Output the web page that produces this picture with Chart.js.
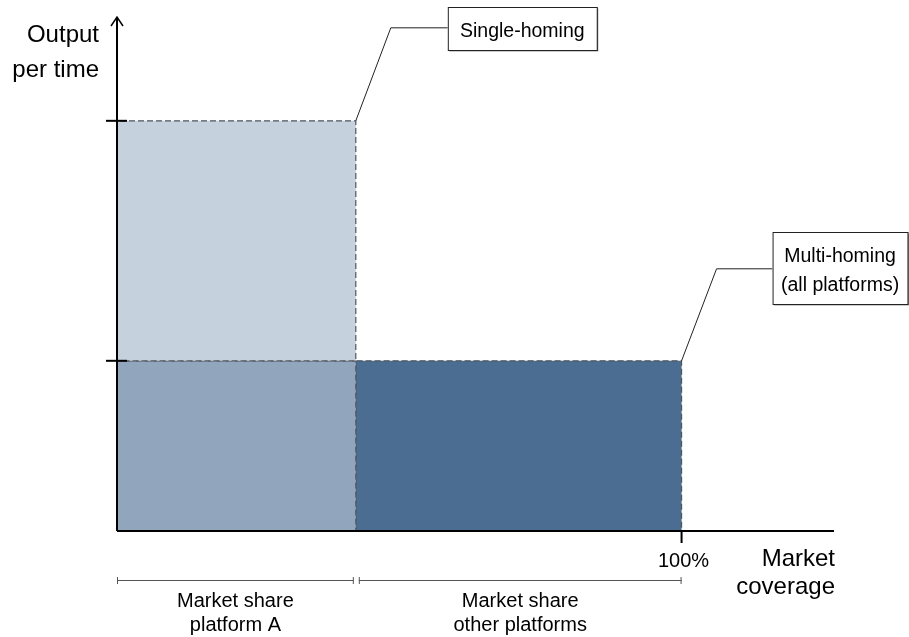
<!DOCTYPE html>
<html>
<head>
<meta charset="utf-8">
<script src="https://cdn.jsdelivr.net/npm/chart.js@4.4.0/dist/chart.umd.min.js"></script>
<style>
  html, body { margin: 0; padding: 0; background: #fff; }
  #wrap { width: 909px; height: 637px; }
</style>
</head>
<body>
<div id="wrap"><canvas id="chart" width="909" height="637"></canvas></div>
<script>
// Market coverage boundaries (%): platform A share, then the rest up to 100%
const coverage = [0, 42.3, 100];
// Output per time: single-homing level, multi-homing level
const outputLevels = [2.41, 1];
const segmentLabels = [['Market share', 'platform A'], ['Market share', 'other platforms']];
const calloutLabels = [['Single-homing'], ['Multi-homing', '(all platforms)']];
const xTickLabels = ['100%'];
const xTitle = ['Market', 'coverage'];
const yTitle = ['Output', 'per time'];

const FONT = 'Arial, "Liberation Sans", sans-serif';
const COLORS = { light: '#c5d1dd', mid: '#91a6bd', dark: '#4a6d91', dash: '#50555c' };

// closed outline of a box in data units
function box(x0, x1, y0, y1){
  return [{x:x0,y:y0},{x:x0,y:y1},{x:x1,y:y1},{x:x1,y:y0},{x:x0,y:y0}];
}

function area(data, color){
  return {
    data,
    showLine: true,
    fill: 'shape',
    backgroundColor: color,
    borderColor: COLORS.dash,
    borderWidth: 1.2,
    borderDash: [6, 3],
    pointRadius: 0,
    tension: 0
  };
}

const datasets = [
  area(box(coverage[0], coverage[1], outputLevels[1], outputLevels[0]), COLORS.light),
  area(box(coverage[0], coverage[1], 0, outputLevels[1]), COLORS.mid),
  area(box(coverage[1], coverage[2], 0, outputLevels[1]), COLORS.dark)
];

function textLines(ctx, lines, x, y, step){
  lines.forEach((t, i) => ctx.fillText(t, x, y + i * step));
}

function callout(ctx, anchor, elbow, rect, lines, step){
  ctx.strokeStyle = '#222';
  ctx.lineWidth = 1;
  ctx.beginPath();
  ctx.moveTo(anchor.x, anchor.y);
  ctx.lineTo(elbow.x, elbow.y);
  ctx.lineTo(rect.x, elbow.y);
  ctx.stroke();
  // soft shadow then the white box
  ctx.fillStyle = '#9a9a9a';
  ctx.fillRect(rect.x + 1.5, rect.y + 1.5, rect.w, rect.h);
  ctx.fillStyle = '#fff';
  ctx.fillRect(rect.x, rect.y, rect.w, rect.h);
  ctx.strokeStyle = '#222';
  ctx.strokeRect(rect.x + 0.5, rect.y + 0.5, rect.w, rect.h);
  ctx.fillStyle = '#000';
  ctx.textAlign = 'center';
  ctx.textBaseline = 'alphabetic';
  const cy = rect.y + rect.h / 2 - (lines.length - 1) * step / 2;
  textLines(ctx, lines, rect.x + rect.w / 2, cy + 8, step);
}

const overlay = {
  id: 'overlay',
  afterDatasetsDraw(chart){
    const { ctx, chartArea: a, scales: { x, y } } = chart;
    ctx.save();

    // axes
    ctx.strokeStyle = '#000';
    ctx.lineWidth = 2;
    ctx.beginPath();
    ctx.moveTo(a.left, a.bottom); ctx.lineTo(a.right, a.bottom);
    ctx.moveTo(a.left, a.bottom); ctx.lineTo(a.left, a.top);
    ctx.stroke();
    ctx.lineWidth = 1.5;
    ctx.beginPath();
    ctx.moveTo(a.left - 6, a.top + 9); ctx.lineTo(a.left, a.top); ctx.lineTo(a.left + 6, a.top + 9);
    ctx.stroke();

    // y ticks at the two output levels
    ctx.lineWidth = 2;
    outputLevels.forEach(v => {
      const py = y.getPixelForValue(v);
      ctx.beginPath(); ctx.moveTo(a.left - 11, py); ctx.lineTo(a.left + 10, py); ctx.stroke();
    });

    // 100% tick
    const xEnd = x.getPixelForValue(coverage[2]);
    ctx.beginPath(); ctx.moveTo(xEnd, a.bottom); ctx.lineTo(xEnd, a.bottom + 12); ctx.stroke();

    ctx.fillStyle = '#000';
    ctx.textBaseline = 'alphabetic';
    ctx.font = '20px ' + FONT;
    ctx.textAlign = 'center';
    ctx.fillText(xTickLabels[0], xEnd + 2, a.bottom + 36);

    // axis titles
    ctx.font = '24px ' + FONT;
    ctx.textAlign = 'right';
    textLines(ctx, xTitle, a.right + 1, a.bottom + 35, 28);
    textLines(ctx, yTitle, a.left - 18, 42, 35);

    // brackets under the x axis
    const by = a.bottom + 49;
    ctx.strokeStyle = '#555';
    ctx.lineWidth = 1;
    ctx.font = '20px ' + FONT;
    ctx.textAlign = 'center';
    segmentLabels.forEach((lines, i) => {
      const x0 = x.getPixelForValue(coverage[i]) + (i ? 3 : 0);
      const x1 = x.getPixelForValue(coverage[i + 1]) - (i ? 0 : 2);
      ctx.beginPath();
      ctx.moveTo(x0, by + 0.5); ctx.lineTo(x1, by + 0.5);
      ctx.moveTo(x0 + 0.5, by - 3); ctx.lineTo(x0 + 0.5, by + 4);
      ctx.moveTo(x1 - 0.5, by - 3); ctx.lineTo(x1 - 0.5, by + 4);
      ctx.stroke();
      textLines(ctx, lines, (x0 + x1) / 2, by + 27, 24);
    });

    // callouts
    ctx.font = '19.5px ' + FONT;
    const c1 = { x: x.getPixelForValue(coverage[1]), y: y.getPixelForValue(outputLevels[0]) };
    callout(ctx, c1, { x: c1.x + 35, y: c1.y - 93 }, { x: c1.x + 92, y: 7, w: 149, h: 43 }, calloutLabels[0], 29);
    const c2 = { x: xEnd, y: y.getPixelForValue(outputLevels[1]) };
    callout(ctx, c2, { x: c2.x + 35, y: c2.y - 92 }, { x: c2.x + 91, y: 232, w: 135, h: 72 }, calloutLabels[1], 29);

    ctx.restore();
  }
};

new Chart(document.getElementById('chart'), {
  type: 'scatter',
  data: { datasets },
  options: {
    responsive: false,
    animation: false,
    layout: { padding: { left: 117, top: 17, right: 75, bottom: 106 } },
    plugins: { legend: { display: false }, tooltip: { enabled: false } },
    scales: {
      x: { type: 'linear', min: 0, max: 127, display: false },
      y: { type: 'linear', min: 0, max: 3.02, display: false }
    }
  },
  plugins: [overlay]
});
</script>
</body>
</html>
